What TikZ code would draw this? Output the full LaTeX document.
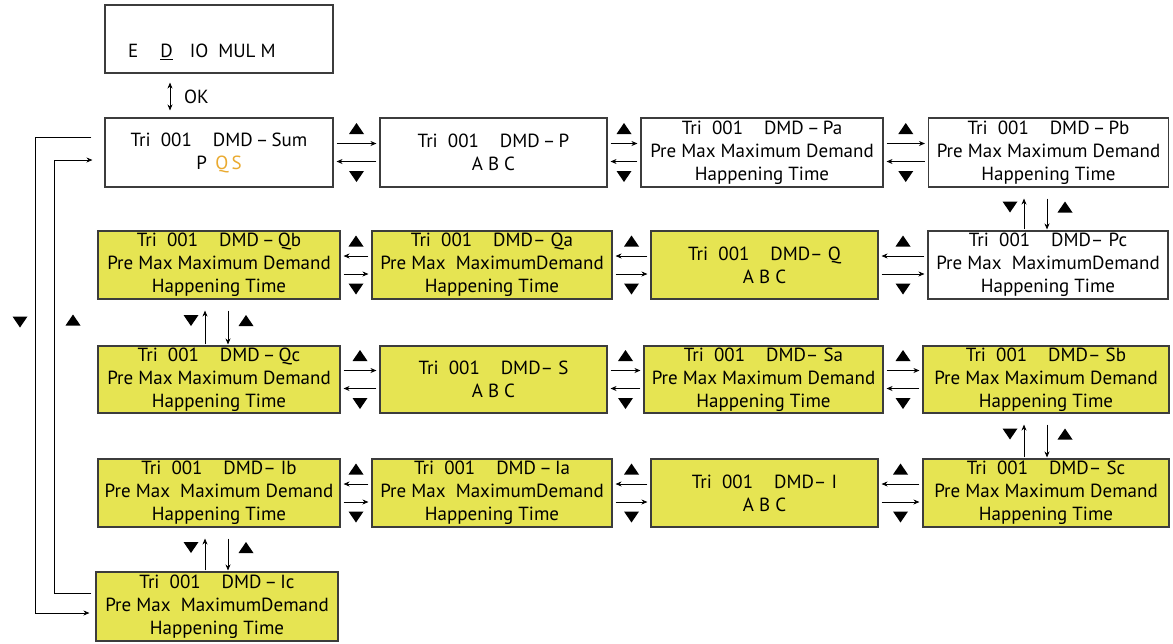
\documentclass[tikz,border=0pt]{standalone}
\usepackage{fontspec}
\setmainfont{PT Sans}
\usetikzlibrary{arrows.meta,calc}
\definecolor{lcd}{RGB}{230,228,82}
\definecolor{qs}{RGB}{234,170,48}
\definecolor{edge}{RGB}{60,60,60}
\newcommand\tup[1]{\fill #1 ++(-7.5,5.5) -- ++(15,0) -- ++(-7.5,-11) -- cycle;}
\newcommand\tdn[1]{\fill #1 ++(-7.5,-5.5) -- ++(15,0) -- ++(-7.5,11) -- cycle;}
\newcommand\tri[1]{Tri\ \ 001\hspace{1.1em}DMD#1}
\newcommand\hlink[3]{%
  \coordinate (m) at ($(#1.east)!0.5!(#2.west)$);
  \tup{($(m)+(0,-24)$)}
  \tdn{($(m)+(0,24)$)}
  \ifnum#3=1
    \draw[arr] ([yshift=9pt]#1.east) -- ([yshift=9pt]#2.west);
    \draw[arr] ([yshift=-9pt]#2.west) -- ([yshift=-9pt]#1.east);
  \else
    \draw[arr] ([yshift=9pt]#2.west) -- ([yshift=9pt]#1.east);
    \draw[arr] ([yshift=-9pt]#1.east) -- ([yshift=-9pt]#2.west);
  \fi}
% #1 upper node, #2 lower node, #3 xshift of up arrow, #4 xshift of down arrow
\newcommand\vlink[4]{%
  \draw[arr,shorten <=1pt,shorten >=11pt] ([xshift=#3]#2.north) -- ([xshift=#3]#2.north |- #1.south);
  \draw[arr,shorten <=11pt,shorten >=1pt] ([xshift=#4]#2.north |- #1.south) -- ([xshift=#4]#2.north);
  \coordinate (m) at ($([xshift=#3]#2.north)!0.5!([xshift=#3]#2.north |- #1.south)$);
  \tdn{($(m)+(-14,-2)$)}
  \tup{($(m)+(#4-#3+18,-2)$)}}
\begin{document}
\begin{tikzpicture}[x=1pt,y=-1pt,
  box/.style={draw=edge,line width=1.1pt,inner sep=0pt,align=center,
    fill=white,font=\fontsize{19}{23}\selectfont},
  lcdbox/.style={box,fill=lcd},
  arr/.style={-{Stealth[length=6pt,width=5pt]},line width=0.8pt,
    shorten <=3pt,shorten >=3pt}]
\fill[white] (0,0) rectangle (1173,643);
\useasboundingbox (0,0) rectangle (1173,643);

% top menu
\node[box,minimum width=228pt,minimum height=68pt] (top) at (219,39) {};
\node[anchor=west,inner sep=0pt,font=\fontsize{19}{23}\selectfont] (menu) at (128,52)
  {E\hspace{22pt}\underline{D}\hspace{17pt}IO\hspace{10pt}MUL\hspace{5pt}M};

% row 1
\node[box,minimum width=228pt,minimum height=69pt] (sum) at (219,152.5)
  {\tri{\,–\,Sum}\\P\hspace{0.45em}\textcolor{qs}{Q\,S}};
\node[box,minimum width=227pt,minimum height=69pt] (P) at (493.5,152.5)
  {\tri{\,–\,P}\\A B C};
\node[box,minimum width=242pt,minimum height=69pt] (Pa) at (762,152.5)
  {\tri{\,–\,Pa}\\Pre Max Maximum Demand\\Happening Time};
\node[box,minimum width=240pt,minimum height=69pt] (Pb) at (1048.5,152.5)
  {\tri{\,–\,Pb}\\Pre Max Maximum Demand\\Happening Time};

% row 2
\node[lcdbox,minimum width=242pt,minimum height=68pt] (Qb) at (219,265)
  {\tri{\,–\,Qb}\\Pre Max Maximum Demand\\Happening Time};
\node[lcdbox,minimum width=240pt,minimum height=68pt] (Qa) at (492,265)
  {\tri{– Qa}\\Pre Max\ \ MaximumDemand\\Happening Time};
\node[lcdbox,minimum width=227pt,minimum height=68pt] (Q) at (764.5,265)
  {\tri{– Q}\\A B C};
\node[box,minimum width=240pt,minimum height=68pt] (Pc) at (1048,265)
  {\tri{– Pc}\\Pre Max\ \ MaximumDemand\\Happening Time};

% row 3
\node[lcdbox,minimum width=242pt,minimum height=67pt] (Qc) at (219,379.5)
  {\tri{\,–\,Qc}\\Pre Max Maximum Demand\\Happening Time};
\node[lcdbox,minimum width=227pt,minimum height=67pt] (S) at (493.5,379.5)
  {\tri{– S}\\A B C};
\node[lcdbox,minimum width=239pt,minimum height=67pt] (Sa) at (763.5,379.5)
  {\tri{– Sa}\\Pre Max Maximum Demand\\Happening Time};
\node[lcdbox,minimum width=246pt,minimum height=67pt] (Sb) at (1046,379.5)
  {\tri{– Sb}\\Pre Max Maximum Demand\\Happening Time};

% row 4
\node[lcdbox,minimum width=242pt,minimum height=68pt] (Ib) at (219,493)
  {\tri{– Ib}\\Pre Max\ \ Maximum Demand\\Happening Time};
\node[lcdbox,minimum width=240pt,minimum height=68pt] (Ia) at (492,493)
  {\tri{\,–\,Ia}\\Pre Max\ \ MaximumDemand\\Happening Time};
\node[lcdbox,minimum width=227pt,minimum height=68pt] (I) at (764.5,493)
  {\tri{– I}\\A B C};
\node[lcdbox,minimum width=246pt,minimum height=68pt] (Sc) at (1046,493)
  {\tri{– Sc}\\Pre Max Maximum Demand\\Happening Time};

% row 5
\node[lcdbox,minimum width=242pt,minimum height=69pt] (Ic) at (217,606.5)
  {\tri{\,–\,Ic}\\Pre Max\ \ MaximumDemand\\Happening Time};

% OK link
\draw[{Stealth[length=6pt,width=5pt]}-{Stealth[length=6pt,width=5pt]},line width=0.8pt,
  shorten <=9pt,shorten >=7pt] ([xshift=-49pt]top.south) -- ([xshift=-49pt]top.south |- sum.north);
\node[anchor=west,inner sep=0pt,font=\fontsize{19}{23}\selectfont] (ok) at (184,97) {OK};

% horizontal links
\hlink{sum}{P}{1}
\hlink{P}{Pa}{1}
\hlink{Pa}{Pb}{1}
\hlink{Qb}{Qa}{0}
\hlink{Qa}{Q}{0}
\hlink{Q}{Pc}{0}
\hlink{Qc}{S}{1}
\hlink{S}{Sa}{1}
\hlink{Sa}{Sb}{1}
\hlink{Ib}{Ia}{0}
\hlink{Ia}{I}{0}
\hlink{I}{Sc}{0}

% vertical links
\vlink{Pb}{Pc}{-24pt}{-1pt}
\vlink{Sb}{Sc}{-22pt}{1pt}
\vlink{Qb}{Qc}{-14pt}{9pt}
\vlink{Ib}{Ic}{-12pt}{11pt}

% left loop
\draw[arr,shorten <=13pt,shorten >=6pt] ([yshift=15.5pt]sum.west) -- ++(-69,0) |- ([yshift=-6.5pt]Ic.west);
\draw[arr,shorten <=4pt,shorten >=12pt] ([yshift=13.5pt]Ic.west) -- ++(-41,0) |- ([yshift=-7.5pt]sum.west);
\tdn{(20,322)}
\tup{(73,320)}
\end{tikzpicture}
\end{document}
